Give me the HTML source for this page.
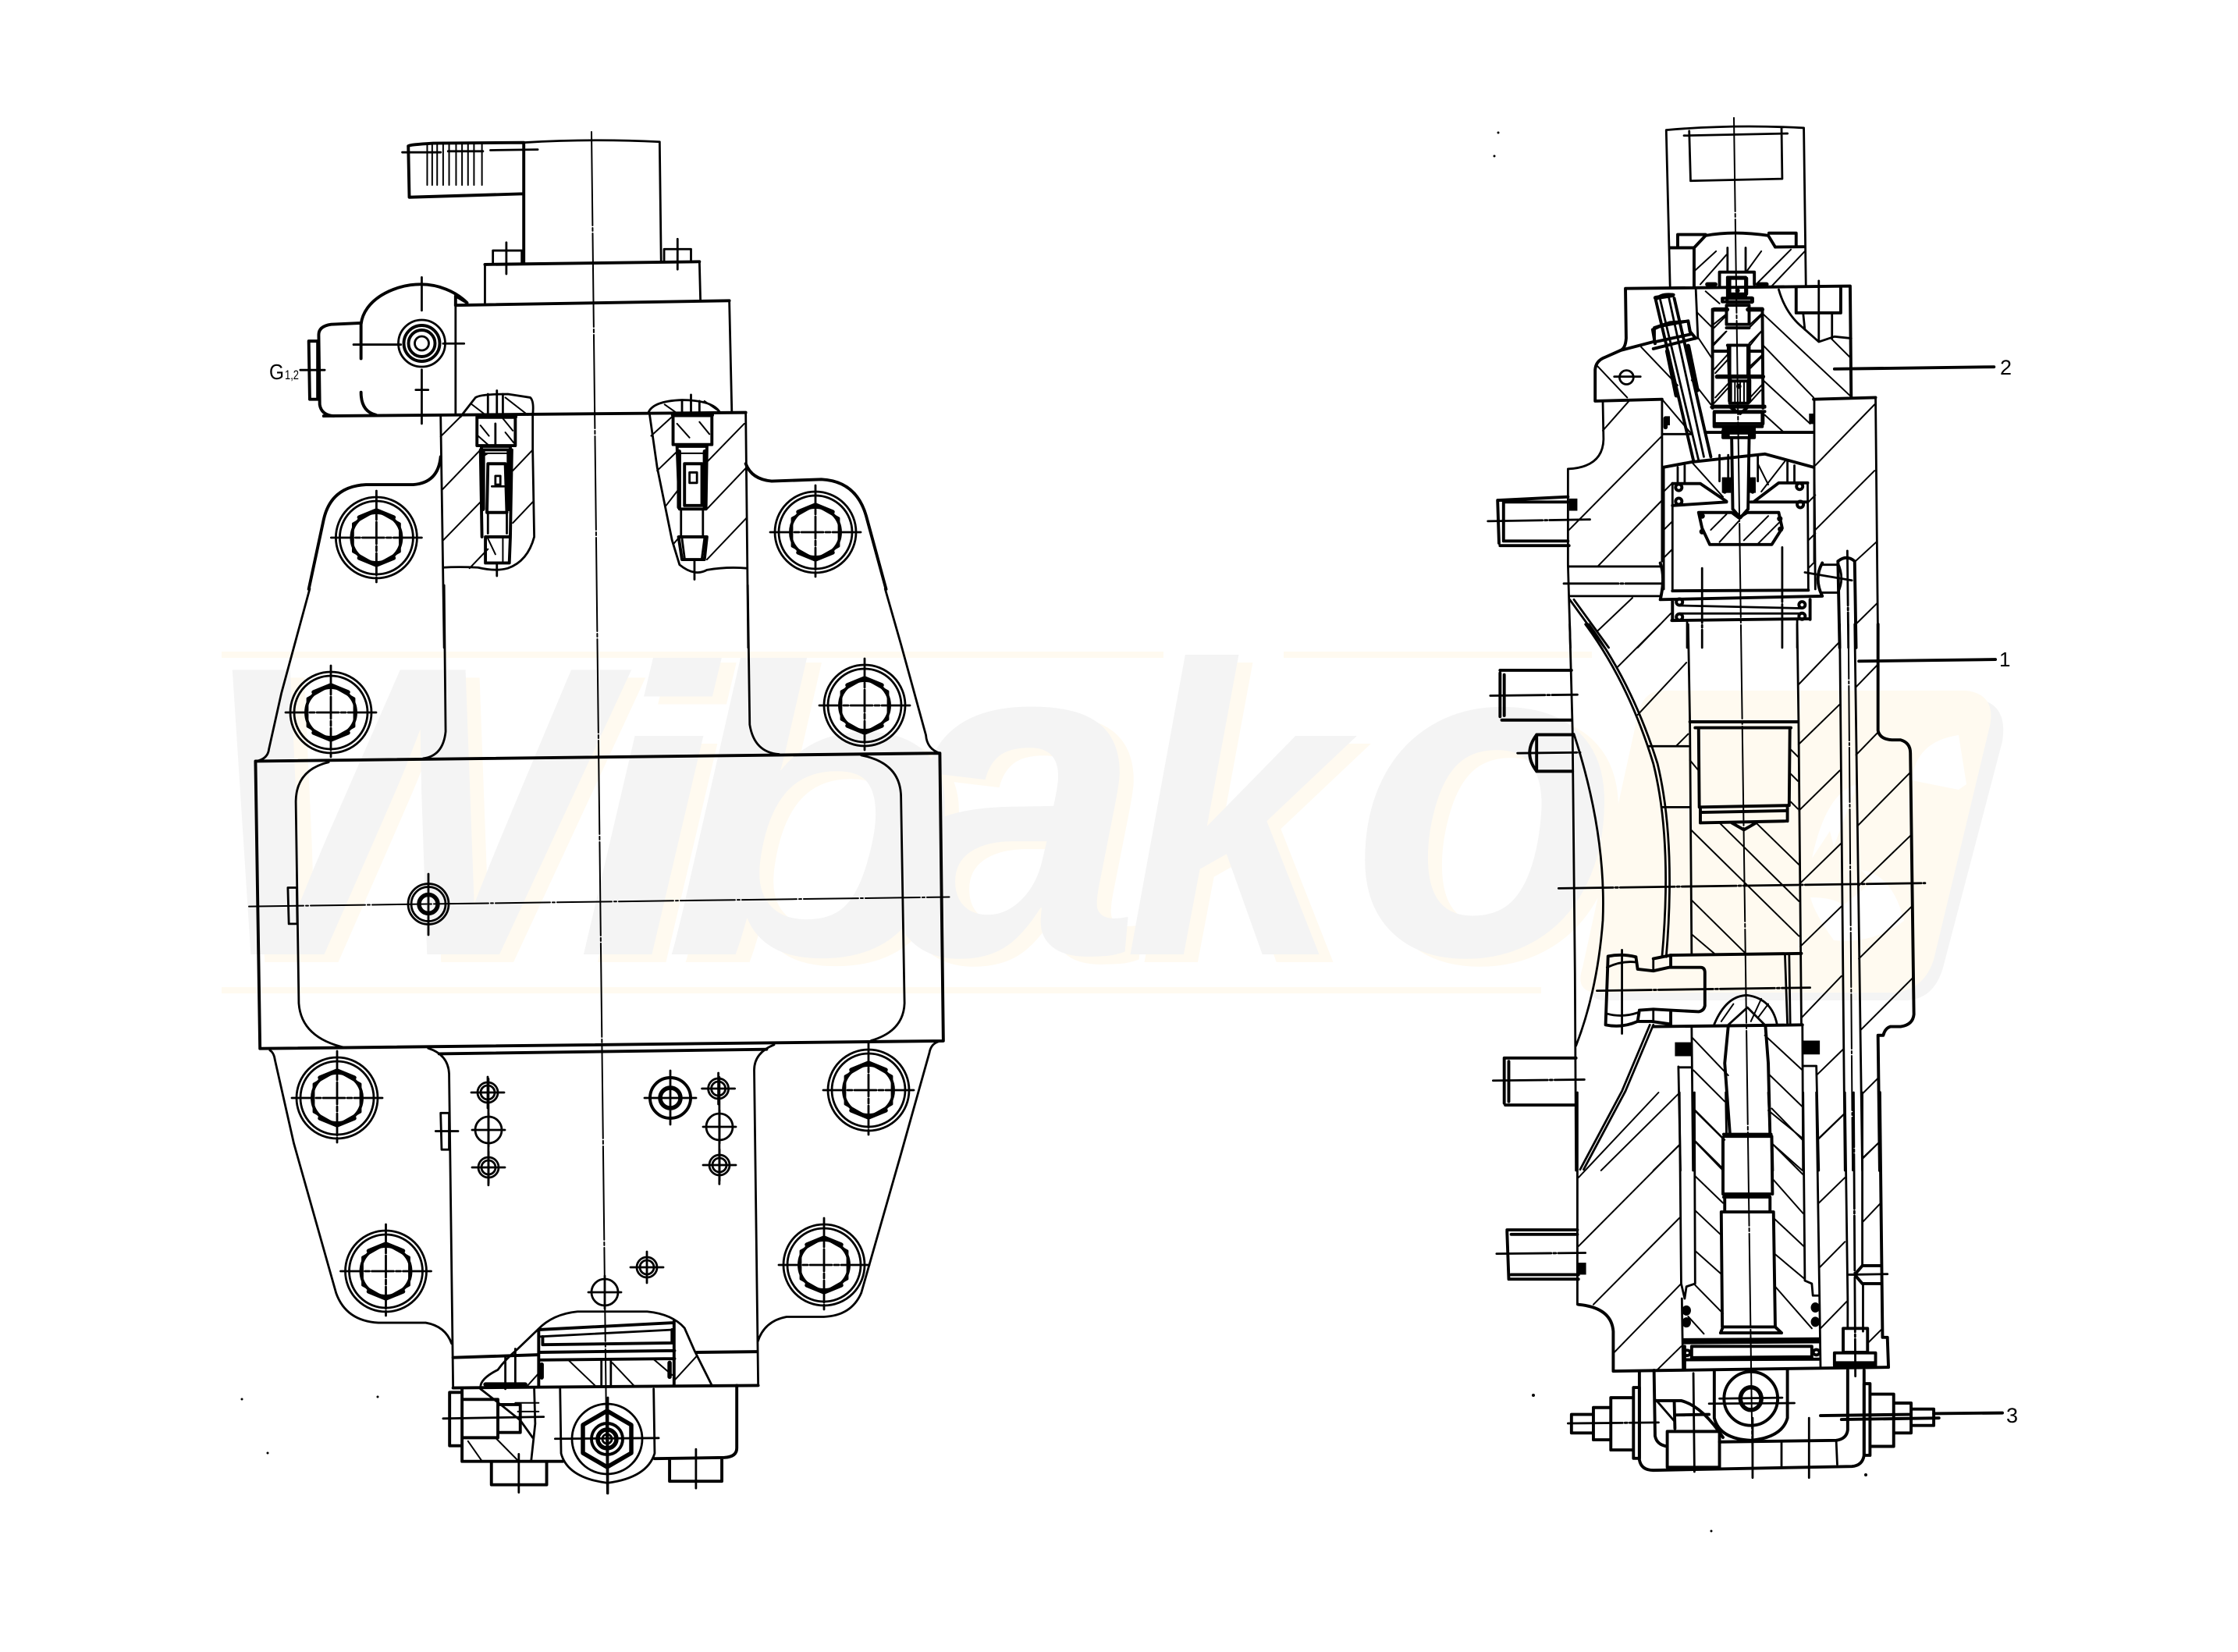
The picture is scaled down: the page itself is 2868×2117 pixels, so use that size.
<!DOCTYPE html>
<html><head><meta charset="utf-8"><title>Hydraulic valve assembly drawing</title>
<style>
html,body{margin:0;padding:0;background:#fff}
svg{display:block}
svg *{vector-effect:non-scaling-stroke}
.l{fill:none;stroke:#000;stroke-linejoin:round;stroke-linecap:round}
.t{stroke-width:3.9}.m{stroke-width:2.8}.n{stroke-width:2}.x{stroke-width:5.5}
.c{stroke-dasharray:70 3 3 3}
.f{fill:#000;stroke:none}
.wg{fill:#f4f4f4;font:italic bold 100px "Liberation Sans",sans-serif}
.wc{fill:#fffaf0;font:italic bold 100px "Liberation Sans",sans-serif}
.lb{font-family:"Liberation Sans",sans-serif;fill:#000}
</style></head><body>
<svg xmlns="http://www.w3.org/2000/svg" width="2868" height="2117" viewBox="0 0 2868 2117">
<rect width="2868" height="2117" fill="#fff"/>
<defs>
<g id="bolt">
<circle r="52" class="l m"/><circle r="47" class="l m"/><circle r="32" class="l t"/>
<path class="l m" d="M0-35 30-18V18L0 35-30 18V-18Z"/>
<path class="l x" d="M-22-26 0-35 22-26M-22 26 0 35 22 26" />
<path class="l m c" d="M-58 0H58M0-60V60" style="stroke-dasharray:28 3 6 3"/>
</g>
<g id="h1"><circle r="13" class="l m"/><circle r="9" class="l m"/><path class="l m" d="M-21 0H21M0-20V20"/></g>
<g id="h2"><circle r="17" class="l m"/><path class="l m" d="M-21 0H21M0-21V21"/></g>
</defs>

<!-- watermark -->
<g>
<g transform="translate(18,10)">
<text class="wc" transform="translate(258,1223) scale(5.43,5.3)">W</text>
<text class="wc" transform="translate(737,1223) scale(6.4,5.3)">i</text>
<text class="wc" transform="translate(850,1223) scale(6.2,5.3)">b</text>
<text class="wc" transform="translate(1140,1223) scale(5.8,5.9)">a</text>
<text class="wc" transform="translate(1440,1223) scale(5,5.3)">k</text>
<text class="wc" transform="translate(1732,1223) scale(5.6,5.9)">o</text>
</g>
<text class="wg" transform="translate(258,1223) scale(5.43,5.3)">W</text>
<text class="wg" transform="translate(737,1223) scale(6.4,5.3)">i</text>
<text class="wg" transform="translate(850,1223) scale(6.2,5.3)">b</text>
<text class="wg" transform="translate(1140,1223) scale(5.8,5.9)">a</text>
<text class="wg" transform="translate(1440,1223) scale(5,5.3)">k</text>
<text class="wg" transform="translate(1732,1223) scale(5.6,5.9)">o</text>
<path fill="#fffaf0" d="M284 835H1491V843H284ZM1645 835H2040V843H1645ZM284 1265H1975V1273H284Z"/>
<path fill="#f4f4f4" d="M2125 895H2530Q2574 900 2566 950L2490 1240Q2478 1282 2440 1282H2055Q2030 1280 2040 1250L2110 930Q2115 900 2125 895Z"/>
<path fill="#fffaf0" d="M2125 885H2520Q2558 890 2550 930L2478 1230Q2465 1270 2425 1272H2045Q2018 1270 2028 1240L2098 920Q2103 890 2125 885Z"/>
<path fill="#fff" d="M2510 942Q2455 950 2450 1000L2510 1012 2520 1005ZM2380 1005Q2340 1015 2322 1100L2345 1065 2350 1085ZM2385 1115Q2425 1120 2440 1180 2400 1210 2350 1205 2325 1170 2320 1150 2350 1150 2362 1160L2400 1130Z"/>
</g>

<!-- LEFT VIEW -->
<path class="l n" d="M758 169 778 1914" style="stroke-dasharray:120 3 4 3"/>
<path class="l n c" d="M319 1161.6 1216.5 1149.5"/>

<!-- Z1 upper left -->
<g transform="translate(300,130) scale(.6378,.4464)">
<path class="l t" d="M350 128Q352 124 400 120L582 118M350 128 352 275 582 265M582 118 582 465M445 585 995 572M180 903 1028 893M504 468 935 460"/>
<path class="l m" d="M582 118Q720 106 855 116L858 460M520 465V428H578V465M864 460V424H918V460M504 468V578M935 460 937 572M445 585V895M995 572 1000 890"/>
<path class="l n" d="M388 122V240M398 122V240M408 122V240M420 118V240M432 118V240M446 118V240M458 118V240M470 118V240M482 118V240M498 118V240"/>
<path class="l m" d="M338 146H415M430 143H500M515 140 610 138M547 405V495M891 395V482"/>
<path class="l t" d="M255 640C260 570 320 525 375 525C410 525 445 545 468 578L445 558V585M255 640V738M255 835Q255 890 285 900M255 636 195 640Q170 645 170 670L172 870Q175 900 200 903M150 688H168V855H152Z"/>
<path class="l m" d="M377 505V600M377 770V925M240 698H335M420 695H462M133 771H182M365 828H390"/>
<!-- lobes -->
<path class="l t" d="M415 1020Q410 1095 360 1100L265 1100Q195 1105 180 1200L150 1400M1028 1040Q1040 1085 1080 1090L1180 1085Q1250 1090 1270 1190L1310 1400"/>
<path class="l m" d="M415 900 422 1568M1028 893 1033 1568"/>
<!-- left section -->
<path class="l m" d="M455 905 485 850Q495 840 550 840L595 850Q603 860 600 900V1000L603 1250Q590 1320 550 1340Q525 1350 490 1338Q450 1335 420 1338"/>
<path class="l n" d="M415 962 455 905M418 1115 495 1000M420 1260 495 1150M473 1340 510 1285M560 1060 600 1000M560 1210 600 1150M478 870 510 905M545 850 590 900"/>
<path class="l t" d="M488 905V988H565V905M497 990H555V1000H497ZM495 1000 498 1250M558 1000 555 1250M510 1040H545L548 1180H508ZM505 1250H555L553 1325H505Z"/>
<path class="l m" d="M510 840V905M540 840V905M528 830V905M525 925V985M510 1180 510 1240M548 1180V1240M525 1075H535V1100H525ZM518 1105H542M528 1325V1362"/>
<path class="l n" d="M495 930 512 960M540 910 560 945M510 1255 525 1300M540 1255V1320M495 1010H555M490 960 510 985M545 950 562 980M498 1020 510 1010"/>
<path class="l x" d="M500 1005V1170M552 1005V1170M490 905H565"/>
<!-- right section -->
<path class="l m" d="M832 895Q840 860 900 857Q960 858 975 890M835 900 850 1050 880 1260 895 1330Q925 1365 950 1345Q990 1335 1030 1340"/>
<path class="l n" d="M838 960 880 905M850 1060 890 1005M868 1160 895 1110M883 1270 895 1250M950 1035 1025 925M950 1170 1030 1050M950 1315 1030 1195M865 870 895 900M945 860 975 890"/>
<path class="l t" d="M882 898V985H960V898M890 990 895 1170 948 1170 950 990ZM905 1040H940V1160H905ZM893 1250H950L945 1315H900Z"/>
<path class="l m" d="M900 860V898M935 860V898M918 842V898M898 1175V1245M942 1175V1245M915 1065H930V1095H915ZM925 1320V1372M900 1255 905 1310M945 1255 940 1310"/>
<path class="l n" d="M890 925 915 965M935 920 955 955M890 1010 950 1010"/>
<path class="l x" d="M894 1005V1165M946 1005V1165M882 900H960"/>
</g>

<!-- Z6 frame -->
<g transform="translate(300,750) scale(.6378,.4464)">
<path class="l m" d="M152 10 95 310 70 470Q68 498 45 505M1308 10 1340 170 1390 430Q1392 470 1418 482M422 0 425 420Q420 490 380 497M1032 0 1036 400Q1045 480 1095 485"/>
<path class="l t" d="M43 505 1418 482M52 1330 1425 1308M1418 482 1425 1308M43 505 52 1330"/>
<path class="l m" d="M190 508Q125 530 124 620L130 1200Q135 1300 225 1328M1260 488Q1340 510 1340 610L1347 1200Q1345 1280 1280 1307M108 868H126L127 972H110Z"/>
</g>
<g>
<circle cx="549" cy="1158.5" r="26" class="l m"/><circle cx="549" cy="1158.5" r="22" class="l m"/><circle cx="549" cy="1158.5" r="12" class="l x"/><path class="l m" d="M549 1120V1198"/>
</g>

<!-- Z2 lower left -->
<g transform="translate(300,1300) scale(.6378,.4464)">
<path class="l m" d="M72 103Q80 110 82 130L120 370 205 800Q225 880 290 885L385 885Q425 895 437 945M1415 78Q1400 85 1397 110L1340 400 1260 800Q1240 865 1185 868L1110 868Q1065 880 1052 940M390 97Q430 115 432 170L440 1070M1085 87Q1045 110 1045 160L1053 1063"/>
<path class="l t" d="M412 113 1070 100M440 985 610 977M930 970 1050 968M440 1072 1053 1065"/>
<path class="l m" d="M415 283H432V388H417ZM405 335H450M511 185V490M975 180V487"/>
<path class="l m" d="M610 905Q640 860 690 853L830 853Q880 860 905 900L925 965 960 1065M610 905 570 960Q545 990 530 1020Q495 1045 495 1070"/>
<path class="l t" d="M612 905 882 885M620 948 880 943M612 970 885 965M612 992 885 988M612 905V1065M884 880V1065M620 925V948M880 905V943"/>
<path class="l m" d="M612 925 882 905M738 990V1065M757 990V1065M545 985V1075M565 960V1060"/>
<path class="l x" d="M618 1005V1042M875 1000V1040M505 1062H585"/>
<path class="l n" d="M670 990 725 1065M760 1000 803 1065M843 990 880 1035M885 1050 930 980M590 1065 612 1030"/>
<path class="l t" d="M433 1085H458V1238H433ZM458 1075V1283H660M458 1105H530V1215H458ZM530 1120H575V1200H530ZM845 1275 985 1272Q1010 1270 1010 1245V1065M517 1285V1350H628V1285M875 1275V1340H980V1275"/>
<path class="l m" d="M655 1075 657 1260Q670 1330 750 1345Q830 1330 845 1260L843 1075M603 1075 605 1175 597 1280M495 1075 540 1125 575 1165 600 1215"/>
<path class="l n" d="M470 1225 497 1280M525 1215 570 1280M565 1115H612M570 1140H612"/>
<path class="l m" d="M420 1160 622 1155M645 1218 853 1216M572 1262V1372M928 1248V1360M751 1100V1375"/>
</g>

<g>
<use href="#bolt" x="482.4" y="689"/><use href="#bolt" x="1045" y="682"/>
<use href="#bolt" x="424" y="913"/><use href="#bolt" x="1108" y="904"/>
<use href="#bolt" x="432" y="1407"/><use href="#bolt" x="1113" y="1397"/>
<use href="#bolt" x="494.5" y="1629"/><use href="#bolt" x="1056" y="1621"/>
<use href="#h1" x="625" y="1400"/><use href="#h2" x="626" y="1448"/><use href="#h1" x="626" y="1496"/>
<use href="#h1" x="920.6" y="1395"/><use href="#h2" x="922" y="1444"/><use href="#h1" x="922" y="1493"/>
<use href="#h1" x="829" y="1624"/><use href="#h2" x="775" y="1656"/>
<circle cx="859" cy="1407" r="26" class="l t"/><circle cx="859" cy="1407" r="13" class="l x"/><path class="l m" d="M826 1407H892M859 1372V1441"/>
<!-- port fitting -->
<circle cx="540.5" cy="440" r="30" class="l m"/><circle cx="540.5" cy="440" r="23" class="l t"/><circle cx="540.5" cy="440" r="17" class="l t"/><circle cx="540.5" cy="440" r="9" class="l m"/>
<!-- bottom boss -->
<circle cx="778" cy="1844" r="45" class="l m"/>
<path class="l x" d="M778 1808 809 1826V1862L778 1880 747 1862V1826Z"/>
<circle cx="778" cy="1844" r="20" class="l t"/><circle cx="778" cy="1844" r="12" class="l x"/><circle cx="778" cy="1844" r="6" class="l m"/>
</g>
<text class="lb" x="345" y="486" font-size="28" textLength="19" lengthAdjust="spacingAndGlyphs">G</text>
<text class="lb" x="365" y="486" font-size="17" textLength="18" lengthAdjust="spacingAndGlyphs">1,2</text>

<!-- RIGHT VIEW -->
<path class="l n" d="M2222 151 2246 1894" style="stroke-dasharray:120 3 4 3"/>

<!-- Z3 -->
<g transform="translate(1900,130) scale(.4464)">
<path class="l m" d="M527 82Q720 65 922 76M527 82 538 530M922 76 928 530M593 85 597 228 860 222 858 75M578 98 875 92"/>
<path class="l t" d="M538 420 607 420M840 418 922 417M560 420V382H640M822 378H900V417M607 420 640 385Q720 370 820 385L840 418M607 420V530M680 490H780M680 490V530M780 490V525M410 537 1055 530M410 537 412 680Q410 710 395 715L350 735Q325 745 323 770V860L515 855M1055 530 1058 850M950 855 1128 850"/>
<path class="l n" d="M610 485 670 430M625 525 700 440M760 485 800 430M790 520 885 425M830 530 925 430"/>
<path class="l m" d="M703 420V485M755 420V490M612 540 618 680"/>
<path class="l x" d="M645 525H668M790 525H815"/>
<path class="l m" d="M1128 850 1135 1568M515 855V1320M345 860 347 970Q345 1050 245 1055L245 1330 252 1568M248 1335H510M248 1420H510M515 955H600M952 855V1320"/>
<path class="l t" d="M640 950H950M900 535V607H1028V535"/>
<path class="l m" d="M920 607 925 655M1003 610V680M850 540Q870 610 920 650L965 690 1010 675 1058 680M965 515V690"/>
<path class="l n" d="M1000 680 1055 735M805 610 1055 845M805 700 950 850M805 800 940 925M810 900 865 950M615 605 660 650M620 680 660 740M640 545 680 580M330 760 415 850M455 705 560 815M515 855 600 955M600 800 655 870"/>
<path class="l t" d="M497 570 605 1030M550 565 655 1020M497 570Q510 550 548 555"/>
<path class="l m" d="M510 570 620 1030M535 565 635 1020"/>
<path class="l t" d="M488 655 510 645 590 630 595 660 612 680M488 655 495 695M490 710 610 680M395 715 490 690"/>
<circle cx="413" cy="792" r="20" class="l m"/><path class="l m" d="M378 790H453"/>
<path class="l t" d="M660 597V880M803 595 805 880M660 597H700M765 595H803M700 585H765V640H700ZM688 565H775V575H688ZM703 505H755V560H703ZM700 650H765M703 700H765M705 700 708 800M765 700V800M665 875H810M665 890H810M665 925H805M665 890V925M805 890V925M690 945H780V965H690ZM715 970 718 1170M765 970 762 1170M718 1170 740 1195 762 1170"/>
<path class="l x" d="M525 910V935M673 790H805M710 800V860M765 800V860"/>
<path class="l n" d="M663 640 700 610M663 700 700 660M668 780 705 740M768 640 800 610M768 700 800 660M768 760 800 730M668 850 705 810M768 850 805 810"/>
<path class="l t" d="M520 1050 600 1035 810 1012 950 1050"/>
<path class="l t" d="M620 1180H715L735 1195 760 1180H850L860 1225 830 1272H652L630 1225Z"/>
<path class="l n" d="M655 1230 700 1185M680 1265 735 1205M750 1260 820 1190M790 1270 855 1205"/>
<path class="l m" d="M545 1097V1400M933 1095 935 1400M520 1050V1400M952 1050 955 1400M560 1050V1095M580 1045V1095M875 1030V1095M895 1045V1095M680 1015V1090M705 1015V1090M765 1015V1090M790 1015V1090"/>
<path class="l t" d="M545 1097H625L700 1148M933 1095H850L780 1148M545 1160 700 1150M770 1150 930 1150"/>
<path class="l x" d="M695 1085V1120M775 1085V1120"/>
<circle cx="563" cy="1108" r="9" class="l t"/><circle cx="563" cy="1148" r="9" class="l t"/><circle cx="910" cy="1105" r="9" class="l t"/><circle cx="912" cy="1157" r="9" class="l t"/>
<circle cx="630" cy="1190" r="8" class="f"/><circle cx="630" cy="1235" r="8" class="f"/><circle cx="853" cy="1198" r="8" class="f"/><circle cx="855" cy="1228" r="8" class="f"/>
<path class="l n" d="M520 1120 545 1095M520 1230 545 1205M520 1310 545 1285M935 1150 955 1130M935 1260 955 1240M935 1340 955 1320M600 1035 690 1135M790 1040 820 1100M870 1030 800 1120"/>
<path class="l t" d="M510 1325Q525 1365 510 1430L975 1420Q950 1370 975 1325M545 1405 935 1403M543 1490 940 1485M545 1430V1490M940 1430V1487"/>
<path class="l m" d="M565 1447 915 1455M565 1470 915 1470M975 1330H1020M975 1410H1020M1020 1325Q1040 1370 1020 1410M587 1495V1568M903 1490V1568"/>
<circle cx="565" cy="1437" r="9" class="l t"/><circle cx="565" cy="1480" r="9" class="l t"/><circle cx="917" cy="1445" r="9" class="l t"/><circle cx="917" cy="1478" r="9" class="l t"/>
<path class="l m c" d="M630 1340V1568M860 1280V1568M1047 1290 1050 1568M925 1352 1060 1375"/>
<path class="l t" d="M1020 1320Q1045 1300 1068 1320M1020 1320 1025 1568M1068 1320 1072 1568"/>
<path class="l t" d="M45 1145 245 1135M43 1145 47 1268M50 1275 248 1275M60 1150V1260M60 1150H245M60 1262H245"/>
<path class="l m c" d="M15 1205 308 1200M233 1384H515"/>
<path class="f" d="M248 1140H272V1175H248Z"/>
<path class="l m" d="M250 1430 350 1568M262 1430 362 1568"/>
<path class="l n" d="M248 1230 515 960M330 1335 515 1145M330 1520 430 1425M445 1568 540 1470M345 945 420 860M955 1045 1125 870M955 1230 1125 1060M1070 1320 1130 1265M1072 1500 1133 1440"/>
<path class="l t" d="M1010 768 1468 762"/>
</g>

<!-- cartridge and screw detail, traced at 3x -->
<g transform="translate(2000,340) scale(.3333)">
<path class="l x" d="M410 330 445 500M490 310 525 480M365 125 430 115M590 170H640M720 170H775"/>
<path class="l t" d="M640 125H735V142H640ZM650 50H715V110H650ZM585 330H650M720 330H775M650 310V430M720 310V430M600 430H770M650 445H720V530H650ZM580 545H785M590 565H775M590 565V620M775 565V620M590 620H775M650 545 690 570 720 545M650 625H720V645H650ZM360 240 420 220 490 215 500 265 360 295Z"/>
<path class="l n" d="M590 240 635 195M590 300 635 255M725 240 770 195M725 300 770 255M590 400 640 345M730 395 770 355M590 530 645 470M725 530 770 480M670 450V530M690 450V530M705 450V530"/>
<circle cx="685" cy="465" r="10" class="f"/><circle cx="680" cy="97" r="9" class="f"/>
<path class="f" d="M620 625H650V660H620ZM720 625H750V660H720ZM620 815H655V875H620ZM720 815H750V875H720ZM400 580H420V615H400ZM955 570H975V610H955Z"/>
</g>

<!-- Z4 -->
<g transform="translate(1900,800) scale(.4464)">
<path class="l m" d="M250 0 258 300 265 1000 268 1568M295 0Q420 170 490 400Q545 620 515 955M305 0Q430 170 502 400Q555 620 527 955M262 315Q355 600 345 850Q330 1050 268 1210M480 1150 400 1340 280 1565M490 1150 410 1340 290 1565"/>
<path class="l t" d="M50 140V265M50 132H255M55 275H255M62 145V262M155 317H258M155 422H258M155 317V422M155 317Q115 370 155 422M62 1245V1375M62 1245H268M65 1380H268M75 1255V1370"/>
<path class="l m c" d="M22 205 272 202M100 370 280 368M30 1310 292 1307M218 758 1270 743M328 1052 940 1043"/>
<path class="l m" d="M590 0 595 280 600 950M903 0 907 280 915 1150"/>
<path class="l t" d="M595 280H905M610 297H885M620 300 622 525M882 300 880 520M622 525 880 520M625 540 875 535M625 570 870 565M625 525V570M875 520V565M715 570 750 590 785 570"/>
<path class="l n" d="M680 570 908 795M785 570 908 690M598 590 908 895M598 790 755 945M600 890 665 945M595 390 620 420M885 360 905 380M885 430 905 450M885 510 905 530M905 175 1025 50M907 345 1025 230M908 535 1025 420M910 745 1028 630M912 925 1030 810M915 1130 1030 1010M385 125 510 0M445 260 585 110M555 350 590 315"/>
<path class="l m" d="M475 350H590M515 525H595M1025 0 1040 1568M1068 0 1090 1568"/>
<path class="l t" d="M1135 0V305Q1140 330 1175 332L1200 332Q1228 340 1228 370L1238 1120Q1235 1150 1200 1155L1170 1155Q1155 1160 1150 1180H1135L1140 1568M540 950 915 945M490 1155 918 1150"/>
<path class="l n c" d="M1050 0 1062 1568"/>
<path class="l n" d="M1072 180 1135 115M1072 375 1135 310M1075 580 1228 425M1080 750 1230 605M1080 960 1232 810M1085 1165 1235 1015M1088 1350 1138 1300M1090 1535 1140 1485"/>
<path class="l t" d="M1080 106 1472 101"/>
<path class="l t" d="M440 955Q400 945 360 953L353 1150Q400 1160 445 1140L450 1108M440 955 445 990 490 995 535 985H625Q638 985 638 1000V1095Q635 1110 620 1112L540 1108 490 1105 450 1108M490 960 540 950V985M540 1110V1150M445 1140 485 1140 540 1148"/>
<path class="l m" d="M357 985Q400 965 440 970M357 1118Q400 1130 445 1115M400 935V1175M868 950 875 1148M880 950 883 1148M490 960V995M490 1105V1140"/>
<path class="l m" d="M665 1148Q700 1065 760 1065Q830 1075 845 1148M705 1150 760 1100 810 1150"/>
<path class="l n" d="M685 1140 720 1090M790 1130 820 1090M770 1140 800 1075"/>
<path class="l t" d="M705 1155 695 1260 710 1465M812 1155 820 1260 825 1465M695 1470H830M690 1475V1568M830 1475 832 1568"/>
<path class="l m" d="M600 1155 604 1568M918 1150 920 1568M562 1270 568 1568M600 1272H562M958 1268H920M958 1268 965 1568"/>
<path class="f" d="M552 1200H600V1240H552ZM918 1195H968V1235H918Z"/>
<path class="l n" d="M600 1185 705 1295M605 1280 695 1370M605 1390 695 1480M605 1480 690 1568M810 1180 918 1280M820 1290 918 1385M830 1390 918 1480M830 1490 918 1568M958 1295 1035 1220M960 1480 1038 1405M340 1568 565 1345M490 1568 565 1495"/>
</g>

<!-- Z5 -->
<g transform="translate(1900,1400) scale(.4464,.3827)">
<path class="l m" d="M272 0V710M698 0 700 140M820 0 825 140"/>
<path class="l t" d="M70 465 75 625M70 460H272M82 475H272M75 625H275M82 610H275M275 710Q370 720 375 800V930M375 933 1165 920"/>
<path class="l m c" d="M40 540 295 537"/>
<path class="f" d="M272 570H297V610H272Z"/>
<path class="l n" d="M275 285 505 0M275 515 565 175M318 710 565 420M378 870 570 640M500 930 570 850"/>
<path class="l m" d="M565 0 570 640 580 690M608 0 610 640 585 650 580 690M572 690 575 930M920 0 925 630 945 640 948 680 967 680M958 0 967 680 970 920"/>
<ellipse cx="585" cy="730" rx="13" ry="17" class="f"/><ellipse cx="585" cy="770" rx="13" ry="17" class="f"/><ellipse cx="955" cy="720" rx="13" ry="17" class="f"/><ellipse cx="955" cy="768" rx="13" ry="17" class="f"/>
<path class="l t" d="M692 140H828M690 150V340M830 150 832 340M692 340H825M692 350H825M695 350V395M825 350V395M685 400H835M685 400 688 785M835 400 840 785M690 785H840M683 805 690 785M858 805 840 785M683 805H858M578 828 965 825M578 838 965 835M600 850 945 850M600 888 945 885M578 895 965 893M580 850V925M600 850V888M945 850V888"/>
<circle cx="587" cy="872" r="9" class="l t"/><circle cx="958" cy="870" r="9" class="l t"/>
<path class="l n" d="M608 60 690 155M608 160 690 255M610 280 690 370M610 395 687 480M610 530 687 610M610 645 690 740M820 60 920 155M830 170 920 275M833 290 920 405M835 420 922 515M838 540 925 625M840 650 945 790M590 750 635 808M965 155 1040 70M965 370 1040 285M968 585 1040 500M970 790 1045 700M1090 220 1140 165M1090 435 1143 370M1105 840 1148 790"/>
<path class="l m" d="M1040 0 1048 690M1090 0V580M1092 640V800M1048 690V790"/>
<path class="l t" d="M1140 0 1148 820H1162L1165 920M1090 580H1145M1092 640H1145M1068 610 1090 580M1068 610 1090 640"/>
<path class="l m c" d="M1065 0 1070 950M1052 610 1162 608"/>
<path class="l t" d="M1035 790H1105V870H1035ZM1010 872H1128V915H1010ZM1010 905H1128"/>
<path class="l t" d="M450 935V1230Q455 1265 490 1265L1060 1252Q1090 1250 1095 1215V930M492 930 495 1150Q500 1180 530 1185M1048 930V1130Q1045 1160 1015 1165L680 1170"/>
<path class="l t" d="M433 988H450V1225H433ZM368 1022H433V1197H368ZM318 1055H368V1163H318ZM255 1078H318V1140H255ZM1095 975H1112V1215H1095ZM1112 1010H1180V1185H1112ZM1180 1040H1230V1140H1180ZM1230 1060H1295V1115H1230Z"/>
<path class="l t" d="M970 1082 1225 1078M1295 1075 1492 1073M1030 1095 1310 1090"/>
<path class="l m c" d="M245 1108 505 1105"/>
<path class="l t" d="M665 930V1090Q680 1160 770 1165Q860 1155 875 1090V930"/>
<ellipse cx="770" cy="1025" rx="77" ry="90" class="l t"/><ellipse cx="770" cy="1025" rx="30" ry="38" class="l x"/>
<path class="l m" d="M650 1042 895 1040M680 1025 860 1022"/>
<path class="l t" d="M530 1135H680V1255H530ZM498 1032H570Q630 1050 690 1155M552 1080 650 1078M550 1032 552 1125"/>
<path class="l m" d="M498 1030 550 1100M605 940 608 1270M858 1170V1250M1015 1165 1018 1245M937 1090V1290M775 1090V1290"/>
</g>

<text class="lb" x="2563" y="480" font-size="27">2</text>
<text class="lb" x="2562" y="854" font-size="26">1</text>
<text class="lb" x="2571" y="1823" font-size="27">3</text>

<g class="f">
<circle cx="1920" cy="170" r="1.5"/><circle cx="1915" cy="200" r="1.5"/><circle cx="1965" cy="1788" r="2"/><circle cx="2391" cy="1890" r="2"/><circle cx="2193" cy="1962" r="1.5"/><circle cx="310" cy="1793" r="1.5"/><circle cx="484" cy="1790" r="1.5"/><circle cx="343" cy="1862" r="1.5"/>
</g>
</svg>
</body></html>
